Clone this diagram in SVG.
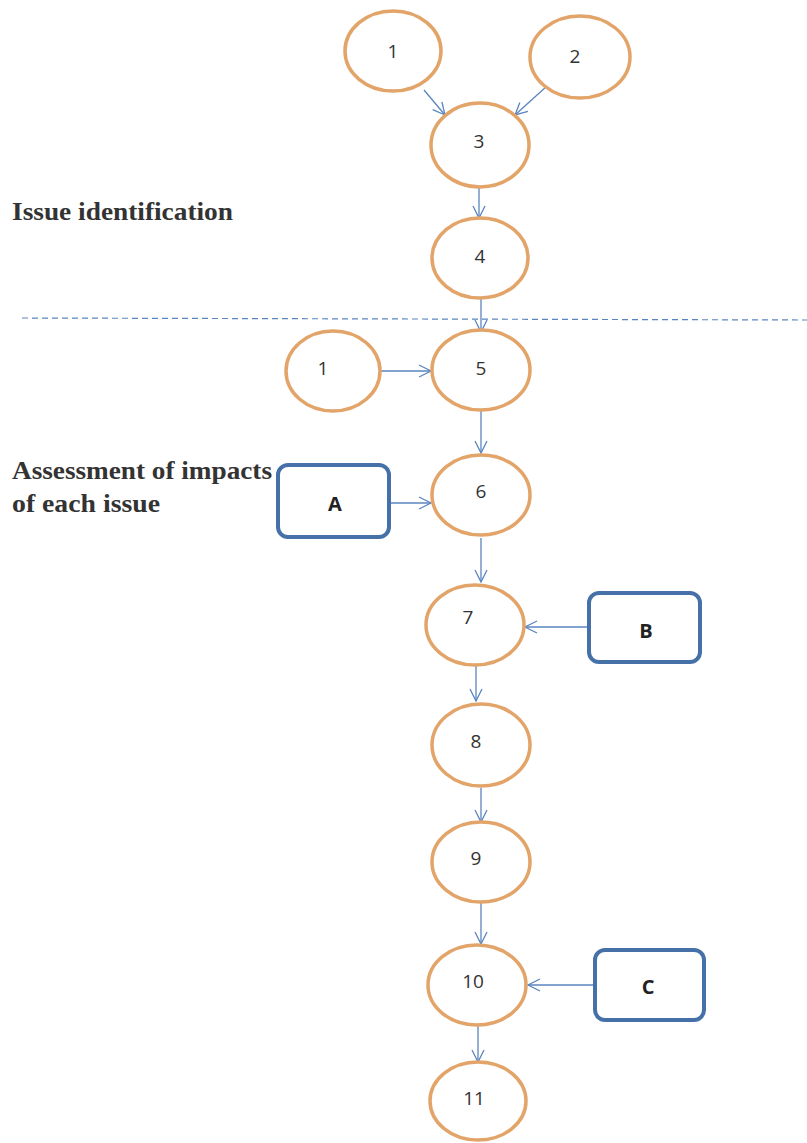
<svg xmlns="http://www.w3.org/2000/svg" width="807" height="1143" viewBox="0 0 807 1143">
<style>
.n ellipse{fill:#fff;stroke:#e2a468;stroke-width:3.5}
.b rect{fill:#fff;stroke:#4670a8;stroke-width:4}
.t{font-family:"Open Sans","Liberation Sans",sans-serif;font-size:19px;fill:#333;text-anchor:middle}
.tb{font-family:"Open Sans","Liberation Sans",sans-serif;font-size:20px;font-weight:bold;fill:#222;text-anchor:middle}
.lbl{font-family:"Liberation Serif",serif;font-size:25px;font-weight:bold;fill:#333}
#edges line{stroke:#5a85c0;stroke-width:1.3;marker-end:url(#ah)}
</style>
<defs>
<marker id="ah" markerWidth="16" markerHeight="16" refX="13" refY="7" orient="auto" markerUnits="userSpaceOnUse">
<polyline points="1,1 13,7 1,13" fill="none" stroke="#5a85c0" stroke-width="1.3"/>
</marker>
</defs>
<rect width="807" height="1143" fill="#fff"/>
<text class="lbl" x="12" y="220" textLength="221" lengthAdjust="spacingAndGlyphs">Issue identification</text>
<text class="lbl" x="12" y="479" textLength="260" lengthAdjust="spacingAndGlyphs">Assessment of impacts</text>
<text class="lbl" x="12" y="512" textLength="148" lengthAdjust="spacingAndGlyphs">of each issue</text>
<line x1="22" y1="318" x2="807" y2="320" stroke="#5a85c0" stroke-width="1.2" stroke-dasharray="6,4"/>
<g id="edges">
<line x1="424" y1="90" x2="445" y2="115"/>
<line x1="547" y1="86" x2="515" y2="115"/>
<line x1="479" y1="187" x2="479" y2="218"/>
<line x1="481" y1="298" x2="481" y2="332"/>
<line x1="381" y1="371" x2="431" y2="371"/>
<line x1="481" y1="411" x2="481" y2="453"/>
<line x1="390" y1="503" x2="431" y2="503"/>
<line x1="481" y1="538" x2="481" y2="582"/>
<line x1="589" y1="627" x2="525" y2="627"/>
<line x1="476" y1="666" x2="476" y2="701"/>
<line x1="481" y1="788" x2="481" y2="822"/>
<line x1="481" y1="903" x2="481" y2="944"/>
<line x1="595" y1="985" x2="528" y2="985"/>
<line x1="478" y1="1026" x2="478" y2="1062"/>
</g>
<g id="n1" class="n"><ellipse cx="393" cy="51" rx="48" ry="40"/><text class="t" x="393" y="58">1</text></g>
<g id="n2" class="n"><ellipse cx="580" cy="57" rx="50" ry="41"/><text class="t" x="575" y="63">2</text></g>
<g id="n3" class="n"><ellipse cx="480" cy="145" rx="49" ry="42"/><text class="t" x="479" y="148">3</text></g>
<g id="n4" class="n"><ellipse cx="480" cy="258" rx="48" ry="40"/><text class="t" x="480" y="263">4</text></g>
<g id="n1b" class="n"><ellipse cx="333" cy="371" rx="47" ry="40"/><text class="t" x="323" y="375">1</text></g>
<g id="n5" class="n"><ellipse cx="481" cy="370" rx="49" ry="40"/><text class="t" x="481" y="375">5</text></g>
<g id="n6" class="n"><ellipse cx="481" cy="495" rx="49" ry="40"/><text class="t" x="481" y="498">6</text></g>
<g id="nA" class="b"><rect x="278" y="465" width="111" height="72" rx="10"/><text class="tb" x="335" y="511">A</text></g>
<g id="n7" class="n"><ellipse cx="475" cy="625" rx="49" ry="40"/><text class="t" x="468" y="624">7</text></g>
<g id="nB" class="b"><rect x="589" y="593" width="111" height="69" rx="10"/><text class="tb" x="646" y="638">B</text></g>
<g id="n8" class="n"><ellipse cx="481" cy="745" rx="49" ry="41"/><text class="t" x="476" y="748">8</text></g>
<g id="n9" class="n"><ellipse cx="481" cy="862" rx="49" ry="40"/><text class="t" x="476" y="865">9</text></g>
<g id="n10" class="n"><ellipse cx="477" cy="985" rx="49" ry="40"/><text class="t" x="473" y="988">10</text></g>
<g id="nC" class="b"><rect x="595" y="950" width="109" height="70" rx="10"/><text class="tb" x="648" y="994">C</text></g>
<g id="n11" class="n"><ellipse cx="478" cy="1101" rx="48" ry="39"/><text class="t" x="474" y="1105">11</text></g>
</svg>
